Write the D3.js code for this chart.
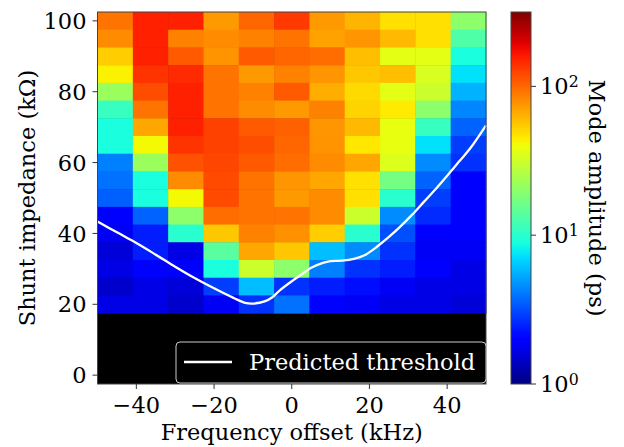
<!DOCTYPE html>
<html>
<head>
<meta charset="utf-8">
<script src="https://d3js.org/d3.v7.min.js"></script>
<style>
  body { margin: 0; background: #fff; }
  svg text { font-family: "DejaVu Serif", serif; fill: #000; }
</style>
</head>
<body>
<svg id="chart" width="624" height="447"></svg>
<script>
// frequency offset column centres (kHz) and shunt impedance rows (kOhm)
const freqOffsets = [-45.45, -36.36, -27.27, -18.18, -9.09, 0, 9.09, 18.18, 27.27, 36.36, 45.45];
const shuntImpedance = [100, 95, 90, 85, 80, 75, 70, 65, 60, 55, 50, 45, 40, 35, 30, 25, 20];

// mode amplitude (ps), one row per shunt impedance value (top to bottom)
const amplitude = [
  [93, 155, 155, 74, 101, 133, 74, 63, 48, 48, 20],
  [80, 155, 86, 80, 86, 93, 70, 76, 61, 48, 13],
  [54, 155, 109, 77, 109, 101, 97, 59, 37, 37, 9],
  [43, 138, 146, 93, 74, 86, 76, 56, 59, 34, 7.3],
  [22, 118, 155, 93, 86, 109, 65, 50, 37, 31, 5.6],
  [11, 93, 155, 93, 80, 74, 86, 52, 45, 20, 4.4],
  [9, 68, 155, 127, 109, 104, 76, 61, 38, 11, 3.6],
  [9, 41, 138, 127, 118, 101, 77, 46, 38, 7.3, 2.9],
  [4.2, 22, 114, 123, 109, 97, 80, 68, 35, 4.5, 2.7],
  [3.9, 9, 80, 120, 93, 76, 68, 48, 17, 3.6, 2],
  [3.5, 9, 41, 120, 93, 74, 80, 48, 10, 2.9, 2],
  [2, 3.6, 20, 97, 93, 93, 80, 31, 4.5, 2.6, 2],
  [1.8, 2.4, 10, 56, 86, 78, 54, 10, 3.2, 2, 2],
  [1.56, 2.4, 1.66, 14, 68, 56, 6, 4.5, 2.7, 1.8, 1.8],
  [1.66, 2, 2, 9, 31, 20, 4.2, 2.7, 2.4, 2, 1.66],
  [1.46, 1.66, 1.56, 2.9, 6, 2.7, 2.4, 2.2, 1.8, 1.66, 1.66],
  [1.66, 1.66, 1.46, 1.8, 2.7, 3.9, 2, 1.8, 1.66, 1.66, 1.56]
];

// predicted threshold curve (kHz, kOhm)
const thresholdFreq = [-50, -45, -40, -35, -30, -25, -20, -15, -12, -10, -7, -5, -3, 0, 3, 5, 8, 10, 13, 16, 19, 22, 25, 28, 31, 34, 37, 40, 43, 46, 50];
const thresholdShunt = [43.4, 40.3, 37.3, 34.0, 30.6, 27.4, 24.5, 21.8, 20.4, 20.2, 20.8, 22.0, 24.0, 26.5, 28.8, 30.3, 31.7, 32.2, 32.3, 32.8, 34.0, 36.3, 39.0, 42.0, 45.3, 48.9, 52.5, 56.3, 60.2, 64.1, 70.5];

const xTicks = [-40, -20, 0, 20, 40];
const yTicks = [0, 20, 40, 60, 80, 100];
const cbTicks = [1, 10, 100];

const svg = d3.select('#chart');
const fs = 22.5;
const pLeft = 97.5, pRight = 486, pTop = 12, pBottom = 384;
const colW = 100 / 11, rowH = 5;

const x = d3.scaleLinear().domain([-50, 50]).range([pLeft, pRight]);
const y = d3.scaleLinear().domain([-2.5, 102.5]).range([pBottom, pTop]);

// matplotlib jet
const jetR = d3.scaleLinear().domain([0, 0.35, 0.66, 0.89, 1]).range([0, 0, 1, 1, 0.5]).clamp(true);
const jetG = d3.scaleLinear().domain([0, 0.125, 0.375, 0.64, 0.91, 1]).range([0, 0, 1, 1, 0, 0]).clamp(true);
const jetB = d3.scaleLinear().domain([0, 0.11, 0.34, 0.65, 1]).range([0.5, 1, 1, 0, 0]).clamp(true);
const jet = t => d3.rgb(jetR(t) * 255, jetG(t) * 255, jetB(t) * 255).formatHex();
const norm = d3.scaleLog().domain([1, 316]).range([0, 1]).clamp(true);

// black background of the axes
svg.append('rect')
  .attr('x', pLeft).attr('y', pTop)
  .attr('width', pRight - pLeft).attr('height', pBottom - pTop)
  .attr('fill', '#000');

const cells = [];
amplitude.forEach((row, i) => row.forEach((v, j) => cells.push({f: freqOffsets[j], s: shuntImpedance[i], v})));

svg.append('g').selectAll('rect')
  .data(cells)
  .join('rect')
  .attr('x', d => x(d.f - colW / 2))
  .attr('y', d => y(d.s + rowH / 2))
  .attr('width', d => x(d.f + colW / 2) - x(d.f - colW / 2) + 0.5)
  .attr('height', d => y(d.s - rowH / 2) - y(d.s + rowH / 2) + 0.5)
  .attr('fill', d => jet(norm(d.v)));

// threshold line
const line = d3.line()
  .x(d => x(d[0]))
  .y(d => y(d[1]))
  .curve(d3.curveCatmullRom);
svg.append('path')
  .datum(thresholdFreq.map((f, i) => [f, thresholdShunt[i]]))
  .attr('d', line)
  .attr('fill', 'none')
  .attr('stroke', '#fff')
  .attr('stroke-width', 2.3);

// frame
svg.append('rect')
  .attr('x', pLeft).attr('y', pTop)
  .attr('width', pRight - pLeft).attr('height', pBottom - pTop)
  .attr('fill', 'none').attr('stroke', '#444').attr('stroke-width', 1);

// x axis
const gx = svg.append('g');
xTicks.forEach(t => {
  gx.append('line').attr('x1', x(t)).attr('x2', x(t)).attr('y1', pBottom).attr('y2', pBottom + 5).attr('stroke', '#333');
  gx.append('text').attr('x', x(t)).attr('y', 413).attr('text-anchor', 'middle')
    .style('font-size', fs + 'px').text(t < 0 ? '\u2212' + Math.abs(t) : t);
});
svg.append('text').attr('x', (pLeft + pRight) / 2).attr('y', 440).attr('text-anchor', 'middle')
  .style('font-size', fs + 'px').text('Frequency offset (kHz)');

// y axis
const gy = svg.append('g');
yTicks.forEach(t => {
  gy.append('line').attr('x1', pLeft - 5).attr('x2', pLeft).attr('y1', y(t)).attr('y2', y(t)).attr('stroke', '#333');
  gy.append('text').attr('x', pLeft - 11).attr('y', y(t)).attr('dy', '0.36em').attr('text-anchor', 'end')
    .style('font-size', fs + 'px').text(t);
});
svg.append('text').attr('transform', `translate(35,${(pTop + pBottom) / 2}) rotate(-90)`)
  .attr('text-anchor', 'middle').style('font-size', fs + 'px').text('Shunt impedance (k\u03a9)');

// legend
const lg = svg.append('g');
lg.append('rect').attr('x', 176).attr('y', 342).attr('width', 310).attr('height', 41).attr('rx', 4)
  .attr('fill', '#000').attr('stroke', '#ccc').attr('stroke-width', 1);
lg.append('line').attr('x1', 184).attr('x2', 232).attr('y1', 362).attr('y2', 362)
  .attr('stroke', '#fff').attr('stroke-width', 2.3);
lg.append('text').attr('x', 249).attr('y', 362).attr('dy', '0.36em')
  .style('font-size', fs + 'px').style('fill', '#fff').text('Predicted threshold');

// colorbar
const cbX = 511, cbW = 20;
const cbY = d3.scaleLog().domain([1, 316]).range([pBottom, pTop]);
const defs = svg.append('defs');
const grad = defs.append('linearGradient').attr('id', 'jetgrad')
  .attr('x1', 0).attr('y1', 1).attr('x2', 0).attr('y2', 0);
d3.range(0, 1.0001, 0.02).forEach(t => grad.append('stop').attr('offset', t).attr('stop-color', jet(t)));
svg.append('rect').attr('x', cbX).attr('y', pTop).attr('width', cbW).attr('height', pBottom - pTop)
  .attr('fill', 'url(#jetgrad)').attr('stroke', '#444').attr('stroke-width', 1);
cbTicks.forEach(t => {
  svg.append('line').attr('x1', cbX + cbW).attr('x2', cbX + cbW + 5).attr('y1', cbY(t)).attr('y2', cbY(t)).attr('stroke', '#333');
  const tx = svg.append('text').attr('x', cbX + cbW + 9).attr('y', cbY(t)).attr('dy', '0.36em')
    .style('font-size', fs + 'px');
  tx.append('tspan').text('10');
  tx.append('tspan').attr('dy', '-0.45em').style('font-size', (fs * 0.7) + 'px').text(Math.round(Math.log10(t)));
});
svg.append('text').attr('transform', `translate(589,${(pTop + pBottom) / 2}) rotate(90)`)
  .attr('text-anchor', 'middle').style('font-size', fs + 'px').text('Mode amplitude (ps)');
</script>
</body>
</html>
